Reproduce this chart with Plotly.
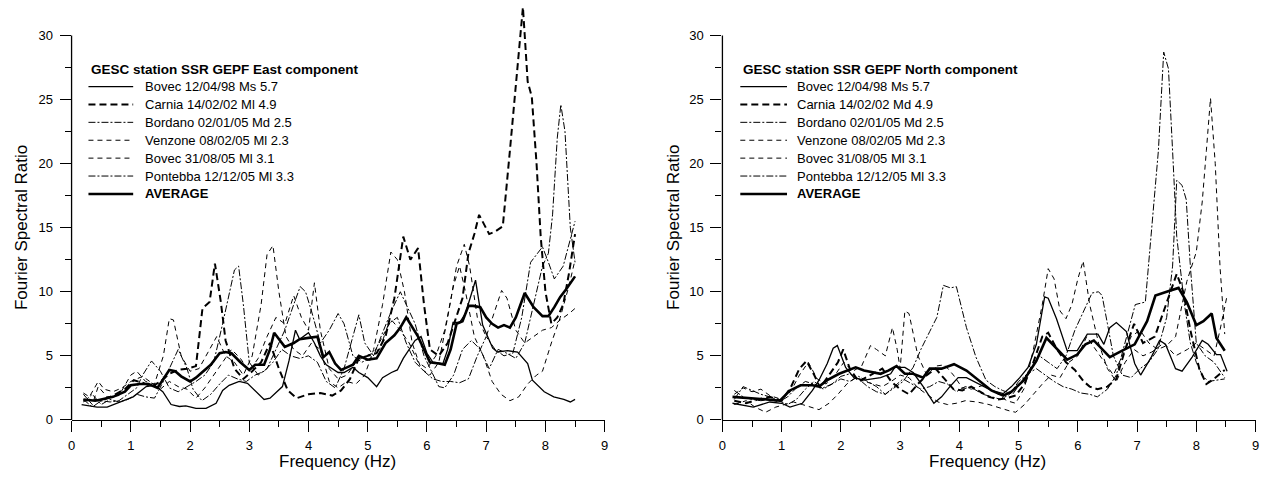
import plotly.graph_objects as go

# ---------------- data (frequency Hz, spectral ratio) ----------------
LEGEND_TITLES = ["GESC station SSR GEPF East component",
                 "GESC station SSR GEPF North component"]
EAST_NAMES = ["Bovec 12/04/98 Ms 5.7", "Carnia 14/02/02 Ml 4.9", "Bordano 02/01/05 Md 2.5",
              "Venzone 08/02/05 Ml 2.3", "Bovec 31/08/05 Ml 3.1", "Pontebba 12/12/05 Ml 3.3", "AVERAGE"]
NORTH_NAMES = ["Bovec 12/04/98 Ms 5.7", "Carnia 14/02/02 Md 4.9", "Bordano 02/01/05 Md 2.5",
               "Venzone 08/02/05 Md 2.3", "Bovec 31/08/05 Ml 3.1", "Pontebba 12/12/05 Ml 3.3", "AVERAGE"]
X_TICKS = [0, 1, 2, 3, 4, 5, 6, 7, 8, 9]
Y_TICKS = [0, 5, 10, 15, 20, 25, 30]
Y_MINOR = [2.5, 7.5, 12.5, 17.5, 22.5, 27.5]

east_bovec98 = [(0.17,1.2),(0.43,1.0),(0.6,1.0),(0.87,1.5),(1.04,1.8),(1.26,2.6),(1.4,2.7),(1.54,2.2),
    (1.68,1.2),(1.82,1.05),(1.93,1.1),(2.1,0.9),(2.27,0.9),(2.44,1.3),(2.55,2.3),(2.66,2.7),(2.83,3.0),
    (2.97,2.85),(3.1,2.3),(3.25,1.6),(3.35,1.7),(3.56,2.6),(3.67,4.6),(3.78,7.0),(3.85,6.3),(4.0,6.8),
    (4.1,6.0),(4.2,5.0),(4.3,4.3),(4.5,3.7),(4.6,3.7),(4.75,4.1),(4.85,3.7),(5.0,3.3),(5.15,2.6),
    (5.25,3.3),(5.4,3.7),(5.5,3.9),(5.6,4.8),(5.8,6.2),(5.9,6.5),(6.0,5.2),(6.1,4.5),(6.27,4.4),
    (6.35,5.5),(6.44,7.6),(6.55,7.6),(6.65,8.3),(6.82,10.9),(6.94,7.4),(7.11,5.6),(7.19,5.3),(7.36,5.4),
    (7.53,5.3),(7.7,4.4),(7.78,3.1),(7.98,2.2),(8.14,1.8),(8.31,1.6),(8.42,1.4),(8.5,1.6)]
east_carnia = [(0.2,1.5),(0.35,1.6),(0.5,1.5),(0.7,1.9),(0.9,2.4),(1.05,3.1),(1.2,2.9),(1.35,2.6),
    (1.5,3.0),(1.65,3.6),(1.8,3.9),(1.95,4.0),(2.1,4.2),(2.21,8.7),(2.33,9.2),(2.42,12.2),(2.52,9.2),
    (2.6,6.2),(2.75,4.0),(2.9,3.2),(3.05,3.8),(3.2,4.5),(3.35,6.0),(3.5,4.0),(3.65,2.3),(3.8,1.7),
    (4.0,2.0),(4.2,2.1),(4.4,1.9),(4.55,2.3),(4.7,3.2),(4.85,4.8),(5.0,5.0),(5.15,5.2),(5.3,6.5),
    (5.45,9.5),(5.6,14.3),(5.72,12.5),(5.85,13.4),(5.95,9.0),(6.05,5.5),(6.2,5.0),(6.35,6.0),(6.5,8.0),
    (6.6,9.5),(6.7,13.0),(6.8,14.5),(6.88,16.0),(7.05,14.5),(7.15,14.7),(7.28,15.1),(7.4,21.0),
    (7.52,27.0),(7.62,32.2),(7.7,26.4),(7.77,25.2),(7.85,20.0),(7.92,14.3),(8.0,10.0),(8.1,7.5),
    (8.2,8.0),(8.3,9.0),(8.4,11.5),(8.5,14.5)]
east_bordano = [(0.2,1.6),(0.35,1.0),(0.5,1.5),(0.65,1.4),(0.8,1.5),(0.95,2.0),(1.1,2.5),(1.2,3.5),
    (1.35,4.6),(1.5,3.8),(1.65,2.5),(1.8,2.2),(1.95,2.6),(2.1,3.0),(2.25,3.5),(2.4,4.5),(2.55,7.5),
    (2.65,9.5),(2.75,11.7),(2.82,12.0),(2.9,9.0),(3.0,4.5),(3.15,3.5),(3.3,4.0),(3.45,5.5),(3.6,7.0),
    (3.75,9.0),(3.86,10.4),(3.95,10.0),(4.05,8.5),(4.2,6.0),(4.35,7.0),(4.5,8.3),(4.6,7.5),(4.75,5.0),
    (4.9,4.5),(5.05,4.8),(5.2,5.5),(5.35,7.5),(5.5,8.0),(5.65,6.0),(5.8,4.5),(5.95,3.8),(6.1,3.2),
    (6.25,3.0),(6.4,3.0),(6.55,2.9),(6.7,3.2),(6.85,5.0),(7.0,6.5),(7.15,5.5),(7.3,5.0),(7.45,5.2),
    (7.6,8.0),(7.75,12.3),(7.95,13.5),(8.05,12.3),(8.15,11.0),(8.3,12.0),(8.42,14.0),(8.5,15.5)]
east_venzone = [(0.2,2.0),(0.35,1.2),(0.45,2.6),(0.6,1.8),(0.8,1.9),(1.0,3.5),(1.1,3.8),(1.25,3.0),
    (1.4,2.8),(1.55,5.0),(1.65,7.9),(1.72,7.8),(1.85,5.0),(2.0,3.8),(2.15,4.0),(2.3,5.2),(2.45,6.5),
    (2.6,5.0),(2.75,4.5),(2.9,3.5),(3.05,5.0),(3.2,9.0),(3.3,12.9),(3.4,13.6),(3.5,10.0),(3.62,6.5),
    (3.75,5.5),(3.9,5.0),(4.05,6.0),(4.2,5.5),(4.35,3.0),(4.5,2.5),(4.65,3.0),(4.8,2.8),(4.95,3.5),
    (5.1,5.5),(5.25,9.0),(5.39,13.1),(5.5,12.5),(5.62,10.0),(5.75,6.0),(5.9,4.0),(6.05,3.5),(6.2,4.5),
    (6.35,8.0),(6.5,12.0),(6.63,13.7),(6.72,12.0),(6.85,8.0),(7.0,6.5),(7.15,8.5),(7.26,10.1),
    (7.35,9.5),(7.5,7.0),(7.65,6.0),(7.8,6.5),(7.95,7.0),(8.1,7.2),(8.25,7.8),(8.4,8.3),(8.5,8.7)]
east_bovec05 = [(0.2,2.1),(0.3,1.8),(0.45,3.0),(0.55,2.4),(0.7,2.2),(0.85,2.5),(1.0,3.0),(1.2,3.4),
    (1.35,2.9),(1.5,2.4),(1.65,3.0),(1.8,2.6),(1.95,2.4),(2.1,1.7),(2.25,2.5),(2.4,3.5),(2.55,4.5),
    (2.7,5.5),(2.85,4.8),(3.0,3.8),(3.15,4.8),(3.3,6.5),(3.45,8.0),(3.6,7.5),(3.75,9.7),(3.88,8.0),
    (4.0,7.0),(4.1,10.7),(4.2,7.0),(4.35,4.0),(4.5,3.2),(4.65,3.5),(4.8,4.5),(4.95,5.0),(5.1,5.2),
    (5.25,6.5),(5.4,7.8),(5.55,7.0),(5.7,6.0),(5.85,4.5),(6.0,4.0),(6.15,5.0),(6.3,7.0),(6.45,10.5),
    (6.55,12.0),(6.65,10.0),(6.8,6.5),(6.95,5.0),(7.1,3.0),(7.25,2.0),(7.4,1.5),(7.55,1.8),(7.7,2.8),
    (7.85,3.5),(7.95,3.8),(8.1,6.0),(8.25,8.0),(8.4,10.5),(8.5,12.5)]
east_pontebba = [(0.2,1.4),(0.35,2.0),(0.5,1.2),(0.65,1.6),(0.8,1.4),(0.95,1.6),(1.1,2.0),(1.25,1.8),
    (1.4,1.7),(1.55,3.0),(1.7,4.5),(1.8,5.5),(1.95,4.0),(2.05,2.4),(2.2,1.5),(2.35,2.0),(2.5,2.8),
    (2.65,3.5),(2.8,3.2),(2.95,3.0),(3.1,3.5),(3.25,3.8),(3.4,4.5),(3.55,5.5),(3.7,5.0),(3.85,4.8),
    (4.0,5.0),(4.15,4.5),(4.3,3.0),(4.45,2.5),(4.6,4.0),(4.75,6.5),(4.85,8.2),(4.95,6.0),(5.1,5.0),
    (5.25,6.8),(5.4,8.5),(5.55,10.0),(5.65,9.0),(5.8,7.5),(5.95,5.0),(6.1,3.5),(6.2,2.6),(6.3,2.5),
    (6.45,3.5),(6.6,5.5),(6.75,6.2),(6.9,5.5),(7.05,4.0),(7.2,5.5),(7.35,5.2),(7.5,4.8),(7.65,6.0),
    (7.8,9.0),(7.95,12.0),(8.05,13.0),(8.12,16.0),(8.2,22.0),(8.26,24.6),(8.33,22.5),(8.42,15.0),(8.5,12.3)]
east_average = [(0.2,1.6),(0.4,1.5),(0.5,1.6),(0.7,1.8),(0.9,2.2),(1.0,2.7),(1.15,2.8),(1.3,2.8),
    (1.45,2.5),(1.55,3.2),(1.65,3.9),(1.75,3.8),(1.85,3.4),(2.0,3.0),(2.1,3.3),(2.2,3.7),(2.35,4.3),
    (2.5,5.2),(2.6,5.3),(2.7,5.2),(2.85,4.5),(3.0,3.9),(3.1,4.3),(3.25,4.3),(3.35,5.5),(3.42,6.8),
    (3.5,6.3),(3.6,5.7),(3.75,6.0),(3.85,6.3),(4.0,6.4),(4.15,6.5),(4.25,4.9),(4.35,5.3),(4.45,4.4),
    (4.55,3.9),(4.65,4.1),(4.75,4.3),(4.85,5.0),(5.0,4.7),(5.15,4.8),(5.3,6.0),(5.45,6.6),(5.55,7.2),
    (5.65,8.0),(5.75,7.2),(5.85,6.5),(5.95,5.5),(6.05,4.5),(6.2,4.4),(6.3,4.3),(6.4,5.5),(6.5,7.5),
    (6.6,7.7),(6.7,8.9),(6.78,8.9),(6.9,8.8),(7.0,8.0),(7.1,7.5),(7.2,7.2),(7.3,7.4),(7.4,7.2),
    (7.5,8.0),(7.65,9.9),(7.8,8.8),(7.95,8.1),(8.05,8.1),(8.15,8.8),(8.25,9.6),(8.35,10.2),(8.5,11.2)]

north_bovec98 = [(0.17,1.3),(0.52,1.0),(0.8,1.4),(1.0,1.3),(1.14,1.0),(1.35,1.3),(1.52,2.3),(1.63,3.1),
    (1.77,4.4),(1.87,5.6),(1.94,5.8),(2.08,4.1),(2.22,3.3),(2.39,3.1),(2.67,3.3),(2.84,3.6),(2.91,4.1),
    (3.08,4.1),(3.22,3.7),(3.39,2.6),(3.57,1.3),(3.7,1.8),(3.84,2.6),(3.98,3.3),(4.12,3.3),(4.33,2.8),
    (4.54,2.3),(4.74,2.05),(4.88,2.6),(5.02,3.3),(5.16,4.1),(5.3,5.9),(5.44,9.6),(5.5,9.5),(5.64,7.9),
    (5.82,5.4),(5.99,5.4),(6.16,6.7),(6.34,6.7),(6.44,5.9),(6.54,7.2),(6.65,7.6),(6.82,6.9),(6.96,4.4),
    (7.06,3.5),(7.24,4.9),(7.38,6.2),(7.48,5.9),(7.65,4.0),(7.76,3.8),(7.93,4.9),(8.1,6.2),(8.2,5.9),
    (8.34,5.1),(8.41,5.1),(8.52,3.8)]
north_carnia = [(0.2,1.5),(0.4,1.3),(0.6,1.6),(0.8,1.8),(1.0,1.5),(1.15,2.5),(1.3,4.0),(1.42,4.6),
    (1.55,3.5),(1.65,2.5),(1.8,3.5),(1.95,4.5),(2.04,5.5),(2.15,4.0),(2.3,3.0),(2.5,3.5),(2.7,4.0),
    (2.85,3.0),(3.0,2.4),(3.15,2.0),(3.3,2.8),(3.45,3.5),(3.6,4.0),(3.75,3.2),(3.9,2.4),(4.05,2.3),
    (4.2,2.6),(4.35,2.2),(4.5,1.8),(4.65,1.6),(4.8,1.7),(4.95,1.9),(5.1,2.8),(5.25,4.5),(5.4,6.5),
    (5.5,6.8),(5.65,5.5),(5.8,4.5),(5.95,3.9),(6.1,3.0),(6.2,2.6),(6.33,2.4),(6.5,2.6),(6.65,3.2),
    (6.8,5.5),(6.95,7.5),(7.1,6.0),(7.3,6.5),(7.45,8.5),(7.6,10.5),(7.67,11.4),(7.78,10.0),(7.9,7.0),
    (8.05,4.0),(8.17,2.8),(8.3,3.2),(8.48,3.9)]
north_bordano = [(0.2,2.3),(0.35,1.8),(0.5,1.6),(0.65,1.5),(0.8,1.6),(0.95,1.4),(1.1,1.8),(1.25,2.5),
    (1.4,3.0),(1.55,2.8),(1.7,2.5),(1.85,2.8),(2.0,3.2),(2.15,3.0),(2.3,3.4),(2.45,3.0),(2.6,2.6),
    (2.75,2.0),(2.9,2.5),(3.05,3.0),(3.22,4.1),(3.35,5.5),(3.5,6.9),(3.62,8.0),(3.73,10.5),(3.85,10.3),
    (3.95,10.4),(4.05,8.5),(4.12,7.2),(4.28,4.9),(4.45,3.1),(4.6,2.6),(4.73,2.3),(4.9,2.0),(5.05,3.0),
    (5.2,4.0),(5.35,5.0),(5.5,4.5),(5.65,4.0),(5.8,5.0),(5.95,7.0),(6.1,8.5),(6.24,9.9),(6.35,10.0),
    (6.41,9.7),(6.5,7.5),(6.6,5.0),(6.75,3.5),(6.9,3.3),(7.05,4.0),(7.2,4.5),(7.35,5.5),(7.5,8.0),
    (7.6,12.0),(7.67,18.7),(7.76,18.3),(7.83,17.2),(7.9,12.0),(8.0,6.0),(8.15,5.0),(8.3,4.5),(8.48,3.3)]
north_venzone = [(0.2,2.0),(0.35,2.5),(0.5,2.2),(0.65,2.4),(0.8,1.9),(1.0,1.6),(1.15,2.2),(1.3,3.5),
    (1.45,4.5),(1.6,3.2),(1.75,2.8),(1.9,3.5),(2.05,4.5),(2.2,3.8),(2.35,4.2),(2.5,5.8),(2.6,5.5),
    (2.75,5.0),(2.87,7.2),(2.95,5.5),(3.0,4.0),(3.08,8.5),(3.15,8.3),(3.3,5.0),(3.45,3.5),(3.6,4.2),
    (3.75,4.3),(3.9,3.5),(4.05,2.5),(4.2,2.4),(4.4,2.7),(4.6,2.2),(4.8,1.5),(4.95,1.3),(5.1,2.5),
    (5.25,5.5),(5.4,9.0),(5.5,11.8),(5.6,11.0),(5.7,8.5),(5.8,7.9),(5.9,9.0),(6.0,11.0),(6.09,12.4),
    (6.2,9.0),(6.35,6.0),(6.5,4.0),(6.65,3.0),(6.8,4.5),(6.95,5.5),(7.1,5.0),(7.25,5.3),(7.45,6.0),
    (7.65,5.0),(7.85,5.5),(8.0,6.0),(8.15,5.5),(8.3,5.0),(8.4,7.0),(8.52,9.7)]
north_bovec05 = [(0.2,1.2),(0.4,1.5),(0.55,1.0),(0.73,0.6),(0.9,1.0),(1.05,1.2),(1.2,1.4),(1.35,1.2),
    (1.5,1.0),(1.63,0.8),(1.8,1.3),(1.95,2.0),(2.1,2.8),(2.25,3.3),(2.4,3.0),(2.55,2.8),(2.7,2.6),
    (2.85,3.0),(3.0,3.5),(3.15,3.3),(3.3,2.5),(3.45,2.0),(3.64,1.4),(3.8,1.2),(3.95,1.3),(4.1,1.5),
    (4.3,1.4),(4.5,1.2),(4.7,0.9),(4.85,0.7),(4.95,0.6),(5.1,1.2),(5.25,2.0),(5.4,2.8),(5.55,3.5),
    (5.7,3.3),(5.85,4.5),(6.0,5.0),(6.15,6.5),(6.3,5.5),(6.45,4.5),(6.6,3.5),(6.75,5.0),(6.9,6.5),
    (7.05,7.0),(7.2,6.0),(7.35,5.5),(7.5,5.8),(7.65,6.5),(7.84,10.8),(8.0,13.1),(8.1,17.0),(8.17,21.0),
    (8.24,25.1),(8.32,20.0),(8.4,12.0),(8.48,6.7)]
north_pontebba = [(0.2,1.6),(0.35,2.6),(0.5,2.3),(0.65,2.0),(0.8,1.8),(0.95,1.5),(1.1,1.2),(1.25,1.6),
    (1.4,2.4),(1.55,3.0),(1.7,2.4),(1.85,2.8),(2.0,3.4),(2.15,3.6),(2.3,3.2),(2.45,2.6),(2.6,2.2),
    (2.75,2.0),(2.9,2.6),(3.05,3.2),(3.2,2.8),(3.35,2.4),(3.5,2.6),(3.65,3.0),(3.8,2.8),(3.95,2.2),
    (4.1,2.6),(4.25,2.4),(4.4,2.0),(4.55,1.8),(4.7,1.6),(4.85,2.0),(5.0,3.0),(5.15,3.6),(5.3,4.0),
    (5.45,3.5),(5.6,3.0),(5.75,2.6),(5.9,2.4),(6.05,2.1),(6.2,2.0),(6.33,1.8),(6.5,2.4),(6.65,3.5),
    (6.8,6.0),(6.97,9.0),(7.14,9.2),(7.25,15.0),(7.36,21.0),(7.45,28.7),(7.53,27.4),(7.6,21.0),
    (7.67,14.3),(7.8,9.0),(7.9,6.0),(8.0,4.5),(8.1,3.5),(8.2,3.0),(8.35,3.1),(8.48,3.2)]
north_average = [(0.17,1.8),(0.52,1.7),(0.75,1.6),(0.97,1.5),(1.14,2.3),(1.32,2.7),(1.52,2.7),(1.63,2.6),
    (1.77,3.1),(1.97,3.6),(2.25,4.1),(2.39,3.85),(2.67,3.6),(2.8,3.85),(2.94,4.2),(3.08,3.6),(3.22,3.6),
    (3.39,3.3),(3.5,4.0),(3.7,4.0),(3.91,4.35),(4.12,3.85),(4.33,3.1),(4.54,2.3),(4.74,1.9),(4.88,2.2),
    (5.09,3.1),(5.3,4.6),(5.47,6.4),(5.64,5.6),(5.82,4.7),(5.99,5.1),(6.13,5.9),(6.27,6.2),(6.41,5.5),
    (6.54,4.9),(6.75,5.4),(6.96,5.9),(7.17,7.7),(7.31,9.7),(7.5,10.0),(7.7,10.3),(7.84,9.2),(8.0,7.4),
    (8.12,7.7),(8.26,8.3),(8.34,6.4),(8.48,5.4)]

EAST = [east_bovec98, east_carnia, east_bordano, east_venzone, east_bovec05, east_pontebba, east_average]
NORTH = [north_bovec98, north_carnia, north_bordano, north_venzone, north_bovec05, north_pontebba, north_average]

# ---------------- styling ----------------
W, H = 1263, 483
FONT = "Liberation Sans, Arial, Helvetica, sans-serif"
STYLES = [(1.3, "solid"), (2.0, "7px,4px"), (1.0, "7px,2px,2px,2px"), (1.0, "5px,4px"),
          (1.0, "5px,4px"), (1.0, "7px,2px,2px,2px"), (2.6, "solid")]
PX_PER_UNIT = (427 - 36) / 30.0
Y_TOP = 427 / PX_PER_UNIT
PANELS = [  # x-axis pixel start/end, legend sample x0/x1, text x, title x, y-title x, x-title x
    dict(x0=68, x1=604.5, s0=85, s1=130, tx=140, ttx=86, ytx=17, xtx=336),
    dict(x0=723, x1=1259.5, s0=741, s1=788, tx=796, ttx=742, ytx=673, xtx=990),
]

fig = go.Figure()
draw_order = [2, 5, 3, 4, 1, 0, 6]
for p, (series, names) in enumerate([(EAST, EAST_NAMES), (NORTH, NORTH_NAMES)]):
    xa = "x" if p == 0 else "x2"
    ya = "y" if p == 0 else "y2"
    for i in draw_order:
        w, d = STYLES[i]
        fx = [pt[0] for pt in series[i]]
        fy = [pt[1] for pt in series[i]]
        fig.add_trace(go.Scatter(x=fx, y=fy, mode="lines", name=names[i], showlegend=False,
                                 line=dict(color="black", width=w, dash=d),
                                 xaxis=xa, yaxis=ya, hoverinfo="skip"))

axis_common = dict(showgrid=False, zeroline=False, ticks="outside", ticklen=11, tickwidth=1,
                   tickcolor="black", linecolor="black", linewidth=1.3,
                   tickfont=dict(family=FONT, size=13, color="black"), fixedrange=True)
for p, pan in enumerate(PANELS):
    sfx = "" if p == 0 else "2"
    fig.update_layout(**{
        "xaxis" + sfx: dict(axis_common, domain=[pan["x0"] / W, pan["x1"] / W], range=[0, 9],
                            tickvals=X_TICKS, showline=True, anchor="y" + sfx,
                            ticklabelstandoff=2,
                            minor=dict(ticks="outside", ticklen=6, tickcolor="black", dtick=0.5, tick0=0)),
        "yaxis" + sfx: dict(axis_common, domain=[(H - 427) / H, 1], range=[0, Y_TOP],
                            tickvals=Y_TICKS, showline=False, anchor="x" + sfx,
                            ticklabelstandoff=4,
                            minor=dict(ticks="outside", ticklen=6, tickcolor="black", tickvals=Y_MINOR)),
    })
    # y axis line only up to 30
    fig.add_shape(type="line", xref="paper", yref="paper",
                  x0=pan["x0"] / W, x1=pan["x0"] / W, y0=1 - 427 / H, y1=1 - 36 / H,
                  line=dict(color="black", width=1.3))
    # axis titles
    fig.add_annotation(text="Fourier Spectral Ratio", xref="paper", yref="paper",
                       x=pan["ytx"] / W, y=1 - 231 / H, textangle=-90, showarrow=False,
                       xanchor="center", yanchor="middle", font=dict(family=FONT, size=17, color="black"))
    fig.add_annotation(text="Frequency (Hz)", xref="paper", yref="paper",
                       x=pan["xtx"] / W, y=1 - 469 / H, showarrow=False,
                       xanchor="center", yanchor="middle", font=dict(family=FONT, size=17, color="black"))
    # legend block
    names = EAST_NAMES if p == 0 else NORTH_NAMES
    fig.add_annotation(text="<b>" + LEGEND_TITLES[p] + "</b>", xref="paper", yref="paper",
                       x=pan["ttx"] / W, y=1 - 71 / H, showarrow=False, xanchor="left", yanchor="middle",
                       font=dict(family=FONT, size=13.5, color="black"))
    for i, nm in enumerate(names):
        yy = 88 + 18.2 * i
        w, d = STYLES[i]
        fig.add_shape(type="line", xref="paper", yref="paper",
                      x0=pan["s0"] / W, x1=pan["s1"] / W, y0=1 - yy / H, y1=1 - yy / H,
                      line=dict(color="black", width=w, dash=d))
        txt = "<b>" + nm + "</b>" if nm == "AVERAGE" else nm
        fig.add_annotation(text=txt, xref="paper", yref="paper", x=pan["tx"] / W, y=1 - yy / H,
                           showarrow=False, xanchor="left", yanchor="middle",
                           font=dict(family=FONT, size=13, color="black"))

fig.update_layout(width=W, height=H, margin=dict(l=0, r=0, t=0, b=0),
                  paper_bgcolor="white", plot_bgcolor="white", showlegend=False)
fig.write_html("out.html")
